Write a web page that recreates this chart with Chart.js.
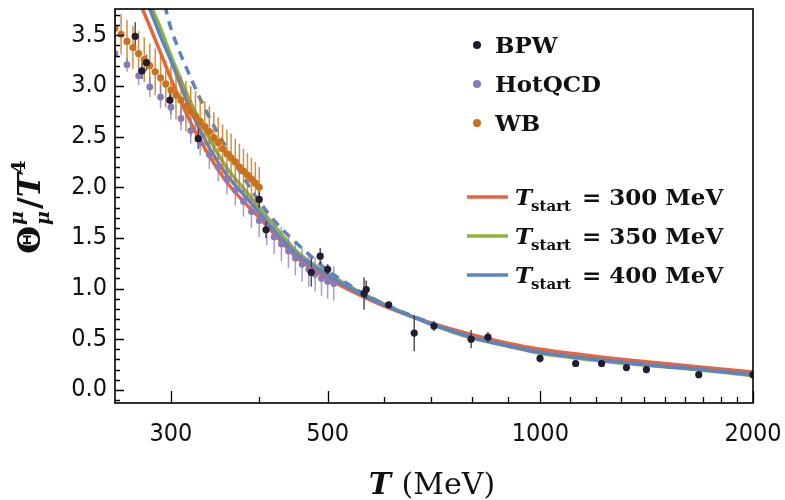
<!DOCTYPE html>
<html><head><meta charset="utf-8">
<script src="https://cdn.jsdelivr.net/npm/chart.js@4.4.1/dist/chart.umd.min.js"></script>
<style>html,body{margin:0;padding:0;background:#fff;}#wrap{width:785px;height:500px;}</style>
</head><body><div id="wrap"><canvas id="c" width="785" height="500"></canvas></div>
<script>
// ---- data ----
const bpwT   = [267, 273, 277, 299, 328, 400, 409, 474, 488, 500, 563, 567, 610, 663, 707, 798, 843, 999, 1122, 1221, 1324, 1413, 1676, 2000];
const bpwV   = [3.49, 3.15, 3.23, 2.86, 2.48, 1.88, 1.58, 1.16, 1.32, 1.19, 0.95, 0.99, 0.84, 0.56, 0.63, 0.50, 0.52, 0.31, 0.26, 0.26, 0.22, 0.20, 0.15, 0.15];
const bpwErr = [0.14, 0.08, 0.08, 0.10, 0.10, 0.08, 0.08, 0.14, 0.08, 0.05, 0.16, 0.09, 0.03, 0.18, 0.05, 0.09, 0.05, 0.04, 0.03, 0.03, 0.02, 0.02, 0.02, 0.02];

const hotT   = [250, 260, 270, 280, 290, 300, 310, 320, 330, 340, 350, 360, 370, 380, 390, 400, 410, 420, 430, 440, 450, 460, 470, 480, 490, 500, 510];
const hotV   = [3.32, 3.21, 3.10, 2.99, 2.89, 2.79, 2.68, 2.56, 2.44, 2.32, 2.20, 2.08, 1.97, 1.86, 1.76, 1.67, 1.59, 1.51, 1.44, 1.37, 1.30, 1.24, 1.19, 1.14, 1.10, 1.07, 1.05];
const hotErr = [0.06, 0.07, 0.09, 0.10, 0.11, 0.12, 0.12, 0.13, 0.13, 0.14, 0.14, 0.15, 0.15, 0.15, 0.16, 0.16, 0.16, 0.17, 0.17, 0.17, 0.17, 0.17, 0.17, 0.17, 0.17, 0.17, 0.17];

const wbT    = [250, 255, 260, 265, 270, 275, 280, 285, 290, 295, 300, 305, 310, 315, 320, 325, 330, 335, 340, 345, 350, 355, 360, 365, 370, 375, 380, 385, 390, 395, 400];
const wbV    = [3.57, 3.51, 3.44, 3.38, 3.32, 3.26, 3.20, 3.14, 3.08, 3.02, 2.96, 2.91, 2.86, 2.80, 2.75, 2.70, 2.65, 2.60, 2.55, 2.49, 2.44, 2.38, 2.33, 2.29, 2.25, 2.20, 2.16, 2.12, 2.08, 2.04, 2.00];
const wbErr  = [0.20, 0.20, 0.21, 0.21, 0.22, 0.22, 0.22, 0.23, 0.23, 0.23, 0.24, 0.24, 0.24, 0.25, 0.25, 0.25, 0.25, 0.25, 0.25, 0.25, 0.25, 0.24, 0.24, 0.24, 0.23, 0.23, 0.22, 0.22, 0.21, 0.21, 0.20];

const curveT      = [260, 270, 280, 290, 300, 320, 340, 360, 380, 400, 425, 450, 475, 500, 550, 600, 700, 800, 900, 1000, 1200, 1400, 1600, 1800, 2000];
const curve300    = [4.15, 3.85, 3.59, 3.33, 3.07, 2.64, 2.31, 2.05, 1.86, 1.70, 1.50, 1.32, 1.20, 1.10, 0.95, 0.83, 0.66, 0.545, 0.46, 0.40, 0.33, 0.28, 0.24, 0.205, 0.175];
const curve350    = [4.60, 4.30, 3.84, 3.57, 3.30, 2.84, 2.48, 2.19, 1.99, 1.80, 1.58, 1.38, 1.25, 1.15, 0.98, 0.85, 0.65, 0.51, 0.43, 0.36, 0.29, 0.245, 0.21, 0.175, 0.14];
const curve400    = [4.40, 4.04, 3.76, 3.49, 3.25, 2.76, 2.39, 2.12, 1.93, 1.75, 1.53, 1.35, 1.23, 1.13, 0.97, 0.84, 0.65, 0.52, 0.435, 0.37, 0.30, 0.25, 0.215, 0.18, 0.15];
const curve400d   = [5.00, 4.60, 4.25, 3.95, 3.57, 3.08, 2.69, 2.38, 2.10, 1.86, 1.63, 1.46, 1.31, 1.18, 0.99, 0.85, 0.66, 0.52, 0.435, 0.37, 0.30, 0.25, 0.215, 0.18, 0.15];
const startTemps  = [300, 350, 400];

const xTickValues  = [300, 400, 500, 600, 700, 800, 900, 1000, 1100, 1200, 1300, 1400, 1500, 1600, 1700, 1800, 1900, 2000];
const xLabelValues = [300, 500, 1000, 2000];
const yTickValues  = [0, 0.5, 1.0, 1.5, 2.0, 2.5, 3.0, 3.5];
const yMinorValues = [-0.1, 0.1, 0.2, 0.3, 0.4, 0.6, 0.7, 0.8, 0.9, 1.1, 1.2, 1.3, 1.4, 1.6, 1.7, 1.8, 1.9, 2.1, 2.2, 2.3, 2.4, 2.6, 2.7, 2.8, 2.9, 3.1, 3.2, 3.3, 3.4, 3.6, 3.7];

// ---- styles ----
const C_BPW = '#221c2e', C_HOT = '#8a7ab9', C_WB = '#c8721e';
const C_RED = '#e8643c', C_GRN = '#8fb43c', C_BLU = '#5b84c0';
const TICKFONT = "'DejaVu Sans Condensed','DejaVu Sans',sans-serif";
const SERIF = "'DejaVu Serif',serif";

const pts = (xs, ys) => xs.map((x, i) => ({x: x, y: ys[i]}));

const pointDS = (label, xs, ys, col, r) => ({
  label, data: pts(xs, ys), backgroundColor: col, borderColor: col,
  pointRadius: r, pointBorderWidth: 0, showLine: false, clip: 0
});
const lineDS = (label, ys, col, dash) => ({
  label, data: pts(curveT, ys), borderColor: col, backgroundColor: col,
  borderWidth: 3.5, pointRadius: 0, showLine: true, cubicInterpolationMode: 'monotone',
  borderDash: dash || [], clip: 0
});

const datasets = [
  pointDS('BPW', bpwT, bpwV, C_BPW, 3.6),
  pointDS('HotQCD', hotT, hotV, C_HOT, 3.4),
  pointDS('WB', wbT, wbV, C_WB, 3.6),
  lineDS('dashed', curve400d, C_BLU, [9, 7]),
  lineDS('400', curve400, C_BLU),
  lineDS('350', curve350, C_GRN),
  lineDS('300', curve300, C_RED)
];

const errorSets = [
  {xs: wbT, ys: wbV, es: wbErr, col: 'rgba(205,120,35,0.85)'},
  {xs: hotT, ys: hotV, es: hotErr, col: 'rgba(140,122,190,0.75)'},
  {xs: bpwT, ys: bpwV, es: bpwErr, col: 'rgba(50,48,58,0.85)'}
];

const errorBars = {
  id: 'errorBars',
  beforeDatasetDraw(chart, args) {
    if (args.index !== 2) return;
    const {ctx, chartArea: a, scales: {x, y}} = chart;
    ctx.save();
    ctx.beginPath(); ctx.rect(a.left, a.top, a.right - a.left, a.bottom - a.top); ctx.clip();
    ctx.lineWidth = 1.5;
    errorSets.forEach(s => {
      ctx.strokeStyle = s.col;
      s.xs.forEach((t, i) => {
        const px = x.getPixelForValue(t);
        ctx.beginPath();
        ctx.moveTo(px, y.getPixelForValue(s.ys[i] + s.es[i]));
        ctx.lineTo(px, y.getPixelForValue(s.ys[i] - s.es[i]));
        ctx.stroke();
      });
    });
    ctx.restore();
  }
};

function drawSubLabel(ctx, x, y, t) {
  ctx.font = "italic bold 23px " + SERIF;
  ctx.fillText('T', x, y);
  let w = ctx.measureText('T').width;
  ctx.font = "bold 15px " + SERIF;
  ctx.fillText('start', x + w - 1, y + 6);
  w += ctx.measureText('start').width + 2;
  ctx.font = "bold 23px " + SERIF;
  ctx.fillText(' = ' + t + ' MeV', x + w, y);
}

const frame = {
  id: 'frame',
  afterDatasetsDraw(chart) {
    const {ctx, chartArea: a, scales: {x, y}} = chart;
    ctx.save();
    ctx.strokeStyle = '#000';
    ctx.lineWidth = 1.6;
    ctx.strokeRect(a.left, a.top, a.right - a.left, a.bottom - a.top);
    ctx.lineWidth = 1.3;
    ctx.beginPath();
    yTickValues.forEach(v => { const p = Math.round(y.getPixelForValue(v)) + 0.5; ctx.moveTo(a.left, p); ctx.lineTo(a.left + 9, p); });
    yMinorValues.forEach(v => { const p = Math.round(y.getPixelForValue(v)) + 0.5; ctx.moveTo(a.left, p); ctx.lineTo(a.left + 5, p); });
    xTickValues.forEach(v => {
      const p = Math.round(x.getPixelForValue(v)) + 0.5;
      const len = xLabelValues.includes(v) ? 12 : 6;
      ctx.moveTo(p, a.bottom); ctx.lineTo(p, a.bottom - len);
    });
    ctx.stroke();
    ctx.restore();
  },
  afterDraw(chart) {
    const {ctx} = chart;
    ctx.save();
    ctx.fillStyle = '#111';
    ctx.textBaseline = 'alphabetic';
    const dotLeg = [['BPW', C_BPW, 45], ['HotQCD', C_HOT, 84], ['WB', C_WB, 123]];
    dotLeg.forEach(([lab, col, yy]) => {
      ctx.fillStyle = col;
      ctx.beginPath(); ctx.arc(477, yy, 4, 0, Math.PI * 2); ctx.fill();
      ctx.fillStyle = '#111';
      ctx.font = "bold 23px " + SERIF;
      ctx.fillText(lab, 495, yy + 8);
    });
    const lineLeg = [[C_RED, 197], [C_GRN, 236], [C_BLU, 275]];
    lineLeg.forEach(([col, yy], i) => {
      ctx.strokeStyle = col; ctx.lineWidth = 3.5;
      ctx.beginPath(); ctx.moveTo(467, yy); ctx.lineTo(508, yy); ctx.stroke();
      ctx.fillStyle = '#111';
      drawSubLabel(ctx, 515, yy + 8, startTemps[i]);
    });
    // x title
    const FS = 30;
    ctx.font = "italic bold " + FS + "px " + SERIF;
    const wT = ctx.measureText('T ').width;
    ctx.font = FS + "px " + SERIF;
    const wM = ctx.measureText('(MeV)').width;
    let x0 = 432 - (wT + wM) / 2;
    ctx.font = "italic bold " + FS + "px " + SERIF;
    ctx.fillText('T', x0, 494);
    ctx.font = FS + "px " + SERIF;
    ctx.fillText('(MeV)', x0 + wT, 494);
    // y title (rotated)
    ctx.translate(40, 207);
    ctx.rotate(-Math.PI / 2);
    const BIG = "bold 32px " + SERIF, BIGI = "italic bold 32px " + SERIF, SM = "italic bold 19px " + SERIF, SMN = "bold 19px " + SERIF;
    ctx.font = BIG; const wTh = ctx.measureText('Θ').width;
    ctx.font = SM; const wMu = ctx.measureText('μ').width;
    ctx.font = BIG; const wSl = ctx.measureText('/').width;
    ctx.font = BIGI; const wT2 = ctx.measureText('T').width;
    ctx.font = SMN; const w4 = ctx.measureText('4').width;
    const total = wTh + wMu + 3 + wSl + wT2 + w4;
    let cx = -total / 2;
    ctx.font = BIG; ctx.fillText('Θ', cx, 0); cx += wTh + 1;
    ctx.font = SM; ctx.fillText('μ', cx, -17); ctx.fillText('μ', cx, 9); cx += wMu + 2;
    ctx.font = BIG; ctx.fillText('/', cx, 0); cx += wSl;
    ctx.font = BIGI; ctx.fillText('T', cx, 0); cx += wT2;
    ctx.font = SMN; ctx.fillText('4', cx, -15);
    ctx.restore();
  }
};

new Chart(document.getElementById('c'), {
  type: 'scatter',
  data: {datasets},
  plugins: [errorBars, frame],
  options: {
    responsive: false, animation: false, devicePixelRatio: 1, events: [],
    layout: {padding: {top: 9, right: 32, left: 0, bottom: 0}, autoPadding: false},
    plugins: {legend: {display: false}, tooltip: {enabled: false}},
    scales: {
      x: {
        type: 'logarithmic', min: 250, max: 2000,
        grid: {display: false, drawTicks: false}, border: {display: false},
        afterBuildTicks: s => { s.ticks = xTickValues.map(v => ({value: v})); },
        ticks: {autoSkip: false, maxRotation: 0, minRotation: 0, padding: 16, color: '#111',
          font: {family: TICKFONT, size: 25},
          callback: v => xLabelValues.includes(v) ? String(v) : ''},
        afterFit: s => { s.height = 97; s.paddingLeft = 0; s.paddingRight = 0; }
      },
      y: {
        type: 'linear', min: -0.13, max: 3.76,
        grid: {display: false, drawTicks: false}, border: {display: false},
        afterBuildTicks: s => { s.ticks = yTickValues.map(v => ({value: v})); },
        ticks: {padding: 8, color: '#111', font: {family: TICKFONT, size: 25},
          callback: v => Number(v).toFixed(1)},
        afterFit: s => { s.width = 115; s.paddingTop = 0; s.paddingBottom = 0; }
      }
    }
  }
});
</script></body></html>
